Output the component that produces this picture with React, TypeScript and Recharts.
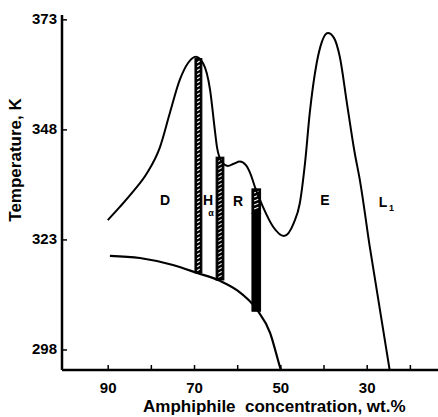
import React from 'react';
import { ComposedChart, Line, XAxis, YAxis, ReferenceArea, ReferenceDot, Label } from 'recharts';

// Upper phase boundary (amphiphile wt.% , temperature K)
const upperBoundary = [
  { c: 90.1, t: 327.5 }, { c: 87.3, t: 330.5 }, { c: 84.3, t: 333.9 }, { c: 81.0, t: 338.2 },
  { c: 78.0, t: 344.1 }, { c: 75.7, t: 351.9 }, { c: 73.4, t: 359.4 }, { c: 71.5, t: 363.2 },
  { c: 69.7, t: 364.6 }, { c: 68.05, t: 363.2 }, { c: 66.4, t: 357.1 }, { c: 65.3, t: 348.0 },
  { c: 64.8, t: 344.1 }, { c: 63.65, t: 340.7 }, { c: 62.3, t: 339.8 }, { c: 60.9, t: 340.3 },
  { c: 59.5, t: 340.8 }, { c: 58.1, t: 340.0 }, { c: 56.95, t: 337.8 }, { c: 56.0, t: 335.0 },
  { c: 54.15, t: 330.5 }, { c: 51.8, t: 326.0 }, { c: 49.3, t: 323.9 }, { c: 47.0, t: 326.9 },
  { c: 45.6, t: 331.4 }, { c: 44.4, t: 340.5 }, { c: 43.3, t: 351.9 }, { c: 41.7, t: 363.2 },
  { c: 40.5, t: 368.0 }, { c: 39.1, t: 370.0 }, { c: 37.7, t: 368.9 }, { c: 36.35, t: 364.6 },
  { c: 34.7, t: 354.1 }, { c: 32.9, t: 342.8 }, { c: 31.7, t: 336.6 }, { c: 29.4, t: 321.4 },
  { c: 24.8, t: 293.45 },
];

// Lower boundary (crystal / liquid crystal)
const lowerBoundary = [
  { c: 89.6, t: 319.4 }, { c: 82.65, t: 318.9 }, { c: 75.0, t: 317.3 }, { c: 69.4, t: 315.5 },
  { c: 64.1, t: 313.7 }, { c: 60.2, t: 311.6 }, { c: 55.5, t: 307.1 }, { c: 52.5, t: 301.9 },
  { c: 50.2, t: 294.1 }, { c: 50.0, t: 293.45 },
];

// Two-phase (hatched / solid) vertical regions
const twoPhaseBands = [
  { c1: 69.9, c2: 68.3, t1: 315.5, t2: 364.2, kind: 'hatch' },
  { c1: 65.0, c2: 63.2, t1: 313.9, t2: 341.8, kind: 'hatch' },
  { c1: 56.7, c2: 54.7, t1: 329.0, t2: 334.6, kind: 'hatch' },
  { c1: 56.7, c2: 54.7, t1: 306.8, t2: 329.0, kind: 'solid' },
];

// Phase region labels
const phaseLabels = [
  { c: 76.84, t: 332.1, text: 'D', sub: '' },
  { c: 66.88, t: 332.1, text: 'H', sub: 'α' },
  { c: 59.93, t: 331.9, text: 'R', sub: '' },
  { c: 39.78, t: 332.1, text: 'E', sub: '' },
  { c: 26.34, t: 331.6, text: 'L', sub: '1' },
];

const xTicks = [90, 80, 70, 60, 50, 40, 30, 20];
const xTickLabels = [90, 70, 50, 30];
const yTicks = [298, 323, 348, 373];
const xDomain = [13.6, 100.7];
const yDomain = [293.45, 374.1];
const xTitle = 'Amphiphile  concentration, wt.%';
const yTitle = 'Temperature, K';

const FONT = '"Liberation Sans", Arial, sans-serif';

const XTick = (props: any) => {
  const { x, y, payload } = props;
  const show = xTickLabels.includes(payload.value);
  return (
    <g>
      <line x1={x} x2={x} y1={y} y2={y - 5} stroke="#000" strokeWidth={1.5} />
      {show && (
        <text x={x} y={y + 23} textAnchor="middle" fontFamily={FONT} fontWeight="bold" fontSize={15} fill="#000">
          {payload.value}
        </text>
      )}
    </g>
  );
};

const YTick = (props: any) => {
  const { x, y, payload } = props;
  return (
    <g>
      <line x1={x} x2={x + 5} y1={y} y2={y} stroke="#000" strokeWidth={1.5} />
      <text x={x - 5} y={y + 4.5} textAnchor="end" fontFamily={FONT} fontWeight="bold" fontSize={15} fill="#000">
        {payload.value}
      </text>
    </g>
  );
};

const BandShape = (kind: string) => (props: any) => {
  const { x, y, width, height } = props;
  if (kind === 'solid') {
    return <rect x={x} y={y} width={width} height={height} fill="#000" stroke="#000" strokeWidth={1} />;
  }
  const dashes = [];
  for (let yy = y + 3; yy < y + height - 2; yy += 4) {
    dashes.push(
      <line key={yy} x1={x + 2.2} y1={yy + 1.2} x2={x + width - 2.2} y2={yy - 0.6} stroke="#fff" strokeWidth={1.1} />
    );
  }
  return (
    <g>
      <rect x={x} y={y} width={width} height={height} fill="#000" stroke="#000" strokeWidth={1} />
      {dashes}
    </g>
  );
};

const LabelShape = (text: string, sub: string) => (props: any) => {
  const { cx, cy } = props;
  const isAlpha = sub === 'α';
  return (
    <g>
      <text x={cx} y={cy + 5} textAnchor="middle" fontFamily={FONT} fontWeight="bold" fontSize={14} fill="#000">
        {text}
      </text>
      {sub && (
        <text
          x={isAlpha ? cx + 3 : cx + 6}
          y={isAlpha ? cy + 16 : cy + 9}
          textAnchor={isAlpha ? 'middle' : 'start'}
          fontFamily={FONT}
          fontWeight="bold"
          fontSize={9}
          fill="#000"
        >
          {sub}
        </text>
      )}
    </g>
  );
};

export default function App() {
  return (
    <div style={{ position: 'absolute', left: 0, top: 0, width: 438, height: 417, background: '#fff' }}>
      <ComposedChart width={438} height={417} margin={{ top: 15, right: 0, bottom: 17, left: 0 }}>
        <XAxis
          type="number"
          dataKey="c"
          domain={xDomain}
          reversed
          allowDataOverflow
          ticks={xTicks}
          interval={0}
          tickSize={0}
          tickMargin={0}
          tickLine={false}
          tick={<XTick />}
          height={30}
          axisLine={{ stroke: '#000', strokeWidth: 2.5 }}
        >
          <Label
            content={(p: any) => {
              const vb = p.viewBox || { x: 62, y: 370, width: 376, height: 30 };
              return (
                <text x={vb.x + 81} y={vb.y + 42} textAnchor="start" fontFamily={FONT} fontWeight="bold" fontSize={17} fill="#000" style={{ whiteSpace: 'pre' }}>
                  {xTitle}
                </text>
              );
            }}
          />
        </XAxis>
        <YAxis
          type="number"
          dataKey="t"
          domain={yDomain}
          allowDataOverflow
          ticks={yTicks}
          interval={0}
          tickSize={0}
          tickMargin={0}
          tickLine={false}
          tick={<YTick />}
          width={62}
          axisLine={{ stroke: '#000', strokeWidth: 2.5 }}
        >
          <Label
            content={(p: any) => {
              const vb = p.viewBox || { x: 0, y: 15, width: 62, height: 355 };
              const cx = vb.x + 21;
              const cy = vb.y + 145;
              return (
                <text x={cx} y={cy} transform={`rotate(-90, ${cx}, ${cy})`} textAnchor="middle" fontFamily={FONT} fontWeight="bold" fontSize={17} fill="#000">
                  {yTitle}
                </text>
              );
            }}
          />
        </YAxis>
        {twoPhaseBands.map((b, i) => (
          <ReferenceArea
            key={i}
            x1={b.c1}
            x2={b.c2}
            y1={b.t1}
            y2={b.t2}
            fill="#000"
            fillOpacity={1}
            stroke="#000"
            shape={BandShape(b.kind)}
            ifOverflow="visible"
          />
        ))}
        <Line data={upperBoundary} dataKey="t" type="monotone" stroke="#000" strokeWidth={2} dot={false} activeDot={false} isAnimationActive={false} />
        <Line data={lowerBoundary} dataKey="t" type="monotone" stroke="#000" strokeWidth={2.2} dot={false} activeDot={false} isAnimationActive={false} />
        {phaseLabels.map((l, i) => (
          <ReferenceDot key={i} x={l.c} y={l.t} r={1} shape={LabelShape(l.text, l.sub)} ifOverflow="visible" />
        ))}
      </ComposedChart>
    </div>
  );
}
